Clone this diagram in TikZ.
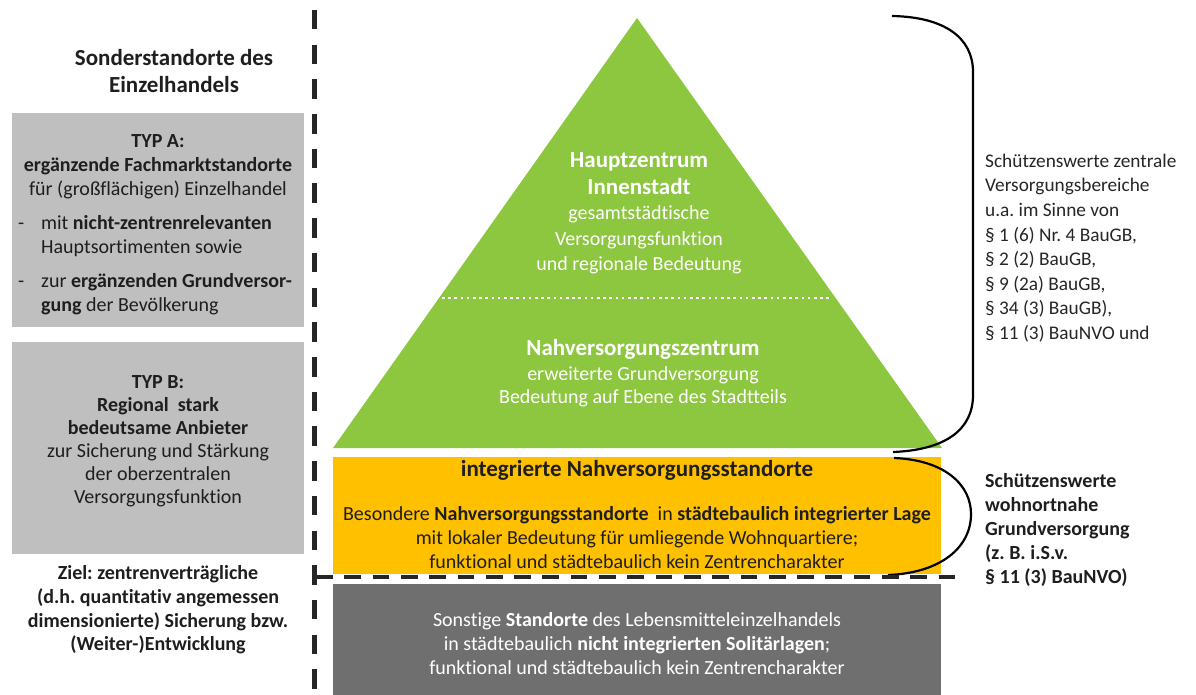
\documentclass[tikz,border=0pt]{standalone}
\usepackage{fontspec}
\setmainfont{Carlito}[Ligatures={TeX,NoCommon}]
\frenchspacing
\definecolor{pgreen}{HTML}{8DC63F}
\definecolor{porange}{HTML}{FFC000}
\definecolor{lgray}{HTML}{BFBFBF}
\definecolor{dgray}{HTML}{6F6F6F}
\definecolor{ink}{HTML}{1E1E1E}
\begin{document}
\begin{tikzpicture}[x=1pt,y=-1pt,
  txt/.style={font=\fontsize{20}{24}\selectfont, align=center, inner sep=0pt, text=ink},
  bigtxt/.style={font=\fontsize{23}{27}\selectfont\bfseries, align=center, inner sep=0pt},
  whitetxt/.style={txt, text=white},
  panel/.style={inner sep=0pt, anchor=north west},
  brace/.style={line width=2.2pt, black},
  sep/.style={line width=5pt, black!85, dash pattern=on 19.5pt off 15.2pt}
]
\useasboundingbox (0,0) rectangle (1196,695);

% left boxes
\node[panel, fill=lgray, minimum width=292pt, minimum height=214pt] (boxA) at (12,113) {};
\node[panel, fill=lgray, minimum width=292pt, minimum height=212pt] (boxB) at (12,342) {};

% pyramid
\coordinate (apex) at (637,18);
\coordinate (bl) at (333,448);
\coordinate (br) at (942,448);
\fill[pgreen] (bl) -- (apex) -- (br) -- cycle;
\coordinate (dotL) at (442,298);
\coordinate (dotR) at (830,298);
\draw[white, line width=2.6pt, dash pattern=on 2.6pt off 3.6pt] (dotL) -- (dotR);

% lower bands
\node[panel, fill=porange, minimum width=608pt, minimum height=117pt] (integ) at (333,457) {};
\node[panel, fill=dgray, minimum width=608pt, minimum height=111pt] (sonst) at (333,584) {};

% title
\node[font=\fontsize{23}{27}\selectfont\bfseries, align=center, inner sep=0pt, text=ink] (title) at (174,71) {Sonderstandorte des\\Einzelhandels};

% box A text
\node[txt] (typA) at (158,167) {\textbf{TYP A:}\\\textbf{ergänzende Fachmarktstandorte}\\für (großflächigen) Einzelhandel};
\node[txt, align=left, anchor=west] (bulA1) at (18,236) {\makebox[23pt][l]{-}mit \textbf{nicht-zentrenrelevanten}\\\hspace*{23pt}Hauptsortimenten sowie};
\node[txt, align=left, anchor=west] (bulA2) at (18,294) {\makebox[23pt][l]{-}zur \textbf{ergänzenden Grundversor-}\\\hspace*{23pt}\textbf{gung} der Bevölkerung};

% box B text
\node[txt, font=\fontsize{20}{23}\selectfont] (typB) at (158,441) {\textbf{TYP B:}\\\textbf{Regional\ \ stark}\\\textbf{bedeutsame Anbieter}\\zur Sicherung und Stärkung\\der oberzentralen\\Versorgungsfunktion};

% Ziel
\node[txt, font=\fontsize{20}{23.7}\selectfont\bfseries] (ziel) at (158,610) {Ziel: zentrenverträgliche\\(d.h. quantitativ angemessen\\dimensionierte) Sicherung bzw.\\(Weiter-)Entwicklung};

% pyramid texts
\node[bigtxt, text=white] (hz) at (639,174) {Hauptzentrum\\Innenstadt};
\node[whitetxt, font=\fontsize{20}{25.5}\selectfont] (hzsub) at (639,240) {gesamtstädtische\\Versorgungsfunktion\\und regionale Bedeutung};
\node[bigtxt, text=white] (nz) at (643,349) {Nahversorgungszentrum};
\node[whitetxt, font=\fontsize{20}{23.5}\selectfont] (nzsub) at (643,387) {erweiterte Grundversorgung\\Bedeutung auf Ebene des Stadtteils};

% integrierte
\node[txt, font=\fontsize{23}{24}\selectfont\bfseries] (inttitle) at (637,470) {integrierte Nahversorgungsstandorte};
\node[txt, font=\fontsize{20}{24}\selectfont] (intbody) at (637,538) {Besondere \textbf{Nahversorgungsstandorte}\ \ in \textbf{städtebaulich integrierter Lage}\\mit lokaler Bedeutung für umliegende Wohnquartiere;\\funktional und städtebaulich kein Zentrencharakter};

% sonstige
\node[whitetxt, font=\fontsize{20}{24}\selectfont] (sonsttxt) at (637,644) {Sonstige \textbf{Standorte} des Lebensmitteleinzelhandels\\in städtebaulich \textbf{nicht integrierten Solitärlagen};\\funktional und städtebaulich kein Zentrencharakter};

% right texts
\node[txt, align=left, anchor=west, font=\fontsize{19.3}{24.6}\selectfont, text=black!85] (zvb) at (985,248) {Schützenswerte zentrale\\Versorgungsbereiche\\u.a. im Sinne von\\§ 1 (6) Nr. 4 BauGB,\\§ 2 (2) BauGB,\\§ 9 (2a) BauGB,\\§ 34 (3) BauGB),\\§ 11 (3) BauNVO und};
\node[txt, align=left, anchor=west, font=\fontsize{20}{24}\selectfont\bfseries] (wgv) at (985,530) {Schützenswerte\\wohnortnahe\\Grundversorgung\\(z. B. i.S.v.\\§ 11 (3) BauNVO)};

% braces
\coordinate (b1s) at (892,16);
\coordinate (b1e) at (893,452);
\draw[brace] (b1s) .. controls (945,17) and (973,38) .. (973,72) -- (973,395) .. controls (973,430) and (945,450) .. (b1e);
\coordinate (b2s) at (894,458);
\coordinate (b2e) at (888,575);
\draw[brace] (b2s) .. controls (945,460) and (971,485) .. (971,514) .. controls (971,548) and (940,573) .. (b2e);

% separators
\coordinate (vtop) at (314,10);
\coordinate (vbot) at (314,695);
\draw[sep] (vtop) -- (vbot);
\coordinate (hl) at (316,577);
\coordinate (hr) at (962,577);
\draw[sep, line width=4pt, dash pattern=on 16.7pt off 11.6pt] (hl) -- (hr);
\end{tikzpicture}
\end{document}
